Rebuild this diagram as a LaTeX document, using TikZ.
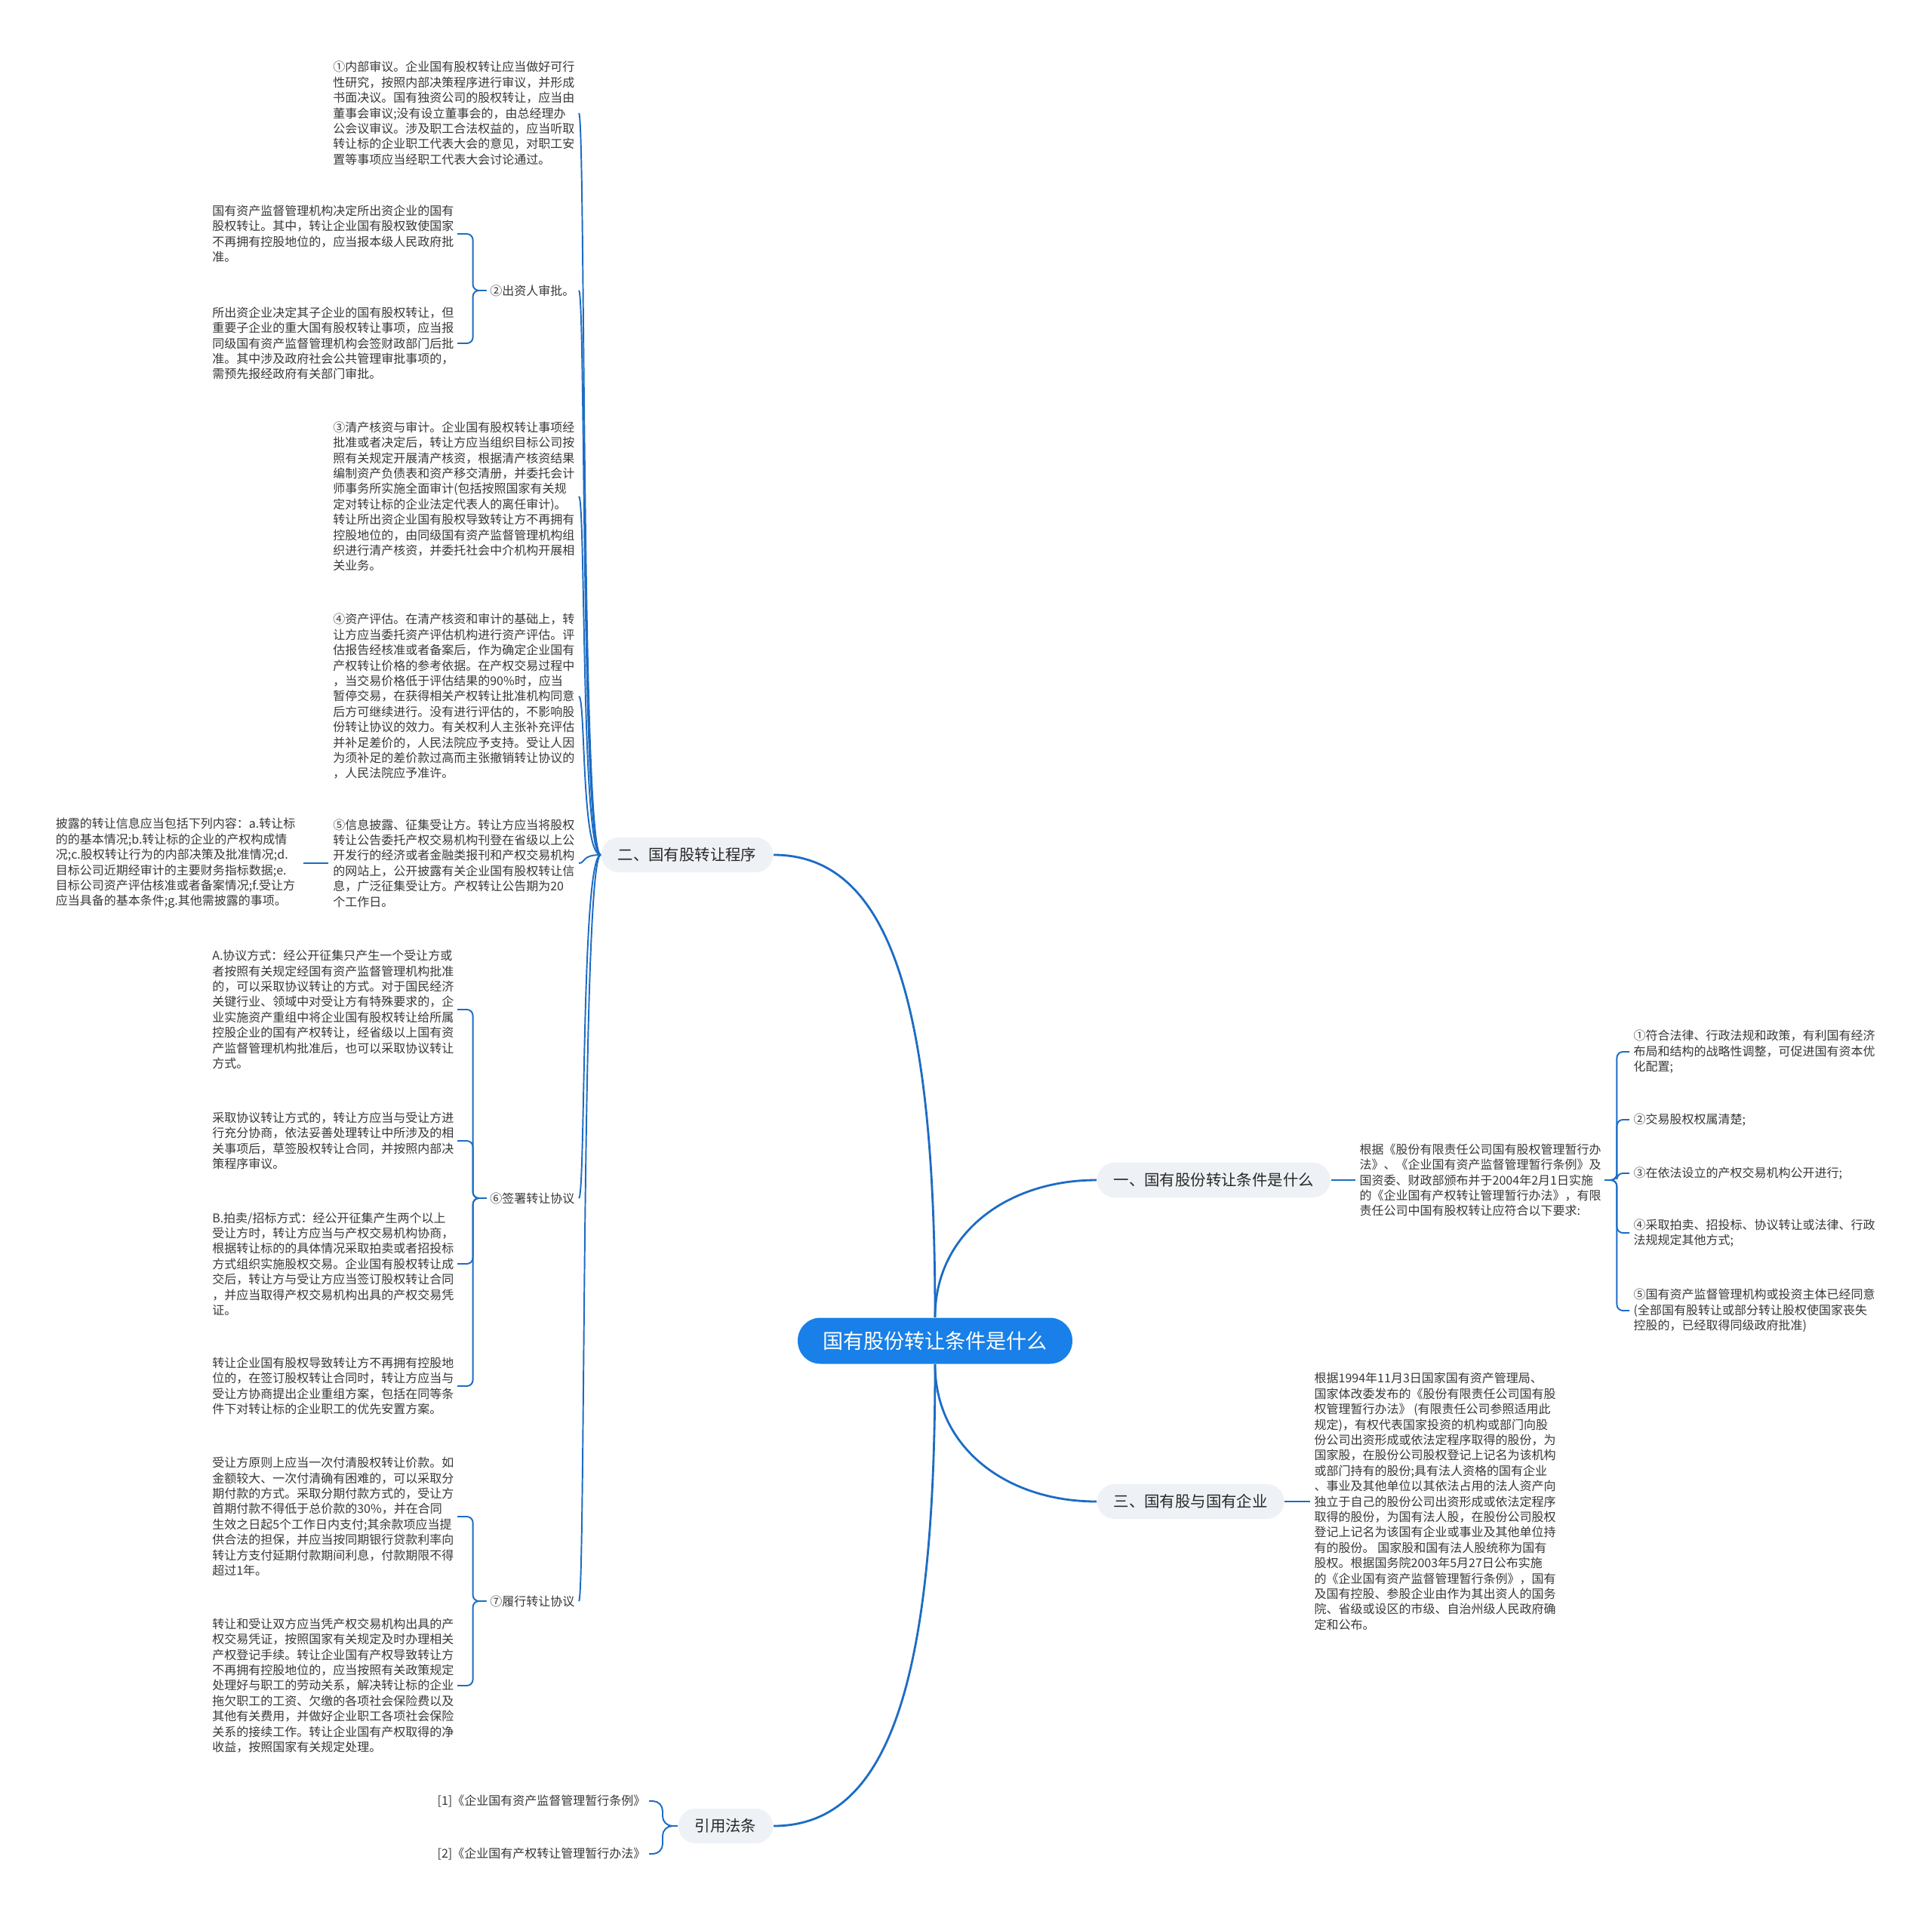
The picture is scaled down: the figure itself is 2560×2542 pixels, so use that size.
\documentclass[tikz,border=0pt]{standalone}
\usepackage{fontspec}
\setmainfont{Noto Sans CJK SC}
\usetikzlibrary{positioning}
\definecolor{rootblue}{RGB}{24,128,232}
\definecolor{branchgray}{RGB}{238,241,245}
\definecolor{linkblue}{RGB}{28,108,196}
\definecolor{txtdark}{RGB}{40,40,40}
\definecolor{txtgray}{RGB}{55,55,55}

\begin{document}
\begin{tikzpicture}[x=0.01cm,y=-0.01cm,
  mmroot/.style={fill=rootblue,text=white,rounded corners=0.3cm,minimum height=0.61cm,
    inner xsep=0.33cm,font=\fontsize{7.7}{9}\selectfont},
  mmbranch/.style={fill=branchgray,text=txtdark,rounded corners=0.23cm,minimum height=0.46cm,
    inner xsep=0.22cm,font=\fontsize{5.8}{7}\selectfont},
  mmtext/.style={align=left,inner sep=0pt,text=txtgray,font=\fontsize{4.55}{5.8}\selectfont},
  mmlink/.style={draw=linkblue,line width=0.55pt},
  mmmain/.style={draw=linkblue,line width=0.8pt},
  mmbrace/.style={mmlink,rounded corners=0.08cm}
]
  \useasboundingbox (0,0) rectangle (2560,2542);
  % centre and main branches
  \node[mmroot] (root) at (1239,1777) {国有股份转让条件是什么};
  \node[mmbranch,anchor=west] (sec1) at (1453,1564) {一、国有股份转让条件是什么};
  \node[mmbranch,anchor=east] (sec2) at (1025,1133) {二、国有股转让程序};
  \node[mmbranch,anchor=west] (sec3) at (1453,1990) {三、国有股与国有企业};
  \node[mmbranch,anchor=east] (refs) at (1025,2420) {引用法条};
  \draw[mmmain] (root.north) .. controls +(0,-110) and +(-120,0) .. (sec1.west);
  \draw[mmmain] (root.north) .. controls +(0,-400) and +(160,0) .. (sec2.east);
  \draw[mmmain] (root.south) .. controls +(0,110) and +(-120,0) .. (sec3.west);
  \draw[mmmain] (root.south) .. controls +(0,400) and +(160,0) .. (refs.east);

  % section one
  \node[mmtext,anchor=west] (r0) at (1801,1564) {根据《股份有限责任公司国有股权管理暂行办\\
法》、《企业国有资产监督管理暂行条例》及\\
国资委、财政部颁布并于2004年2月1日实施\\
的《企业国有产权转让管理暂行办法》，有限\\
责任公司中国有股权转让应符合以下要求:};
  \node[mmtext,anchor=west] (r1) at (2164,1394) {①符合法律、行政法规和政策，有利国有经济\\
布局和结构的战略性调整，可促进国有资本优\\
化配置;};
  \node[mmtext,anchor=west] (r2) at (2164,1484) {②交易股权权属清楚;};
  \node[mmtext,anchor=west] (r3) at (2164,1555) {③在依法设立的产权交易机构公开进行;};
  \node[mmtext,anchor=west] (r4) at (2164,1634) {④采取拍卖、招投标、协议转让或法律、行政\\
法规规定其他方式;};
  \node[mmtext,anchor=west] (r5) at (2164,1737) {⑤国有资产监督管理机构或投资主体已经同意\\
(全部国有股转让或部分转让股权使国家丧失\\
控股的，已经取得同级政府批准)};
  \draw[mmlink,shorten >=0.05cm] (sec1.east) -- (r0.west);
  \foreach \c in {r1,r2,r3,r4,r5}
    \draw[mmbrace,shorten <=0.04cm,shorten >=0.05cm] (r0.east) -- ++(20,0) |- (\c.west);

  % section two
  \node[mmtext,anchor=east] (q1) at (762,150) {①内部审议。企业国有股权转让应当做好可行\\
性研究，按照内部决策程序进行审议，并形成\\
书面决议。国有独资公司的股权转让，应当由\\
董事会审议;没有设立董事会的，由总经理办\\
公会议审议。涉及职工合法权益的，应当听取\\
转让标的企业职工代表大会的意见，对职工安\\
置等事项应当经职工代表大会讨论通过。};
  \node[mmtext,anchor=east] (q2) at (762,385) {②出资人审批。};
  \node[mmtext,anchor=east] (q2a) at (602,310) {国有资产监督管理机构决定所出资企业的国有\\
股权转让。其中，转让企业国有股权致使国家\\
不再拥有控股地位的，应当报本级人民政府批\\
准。};
  \node[mmtext,anchor=east] (q2b) at (602,455) {所出资企业决定其子企业的国有股权转让，但\\
重要子企业的重大国有股权转让事项，应当报\\
同级国有资产监督管理机构会签财政部门后批\\
准。其中涉及政府社会公共管理审批事项的，\\
需预先报经政府有关部门审批。};
  \node[mmtext,anchor=east] (q3) at (762,658) {③清产核资与审计。企业国有股权转让事项经\\
批准或者决定后，转让方应当组织目标公司按\\
照有关规定开展清产核资，根据清产核资结果\\
编制资产负债表和资产移交清册，并委托会计\\
师事务所实施全面审计(包括按照国家有关规\\
定对转让标的企业法定代表人的离任审计)。\\
转让所出资企业国有股权导致转让方不再拥有\\
控股地位的，由同级国有资产监督管理机构组\\
织进行清产核资，并委托社会中介机构开展相\\
关业务。};
  \node[mmtext,anchor=east] (q4) at (762,923) {④资产评估。在清产核资和审计的基础上，转\\
让方应当委托资产评估机构进行资产评估。评\\
估报告经核准或者备案后，作为确定企业国有\\
产权转让价格的参考依据。在产权交易过程中\\
，当交易价格低于评估结果的90\%时，应当\\
暂停交易，在获得相关产权转让批准机构同意\\
后方可继续进行。没有进行评估的，不影响股\\
份转让协议的效力。有关权利人主张补充评估\\
并补足差价的，人民法院应予支持。受让人因\\
为须补足的差价款过高而主张撤销转让协议的\\
，人民法院应予准许。};
  \node[mmtext,anchor=east] (q5) at (762,1144) {⑤信息披露、征集受让方。转让方应当将股权\\
转让公告委托产权交易机构刊登在省级以上公\\
开发行的经济或者金融类报刊和产权交易机构\\
的网站上，公开披露有关企业国有股权转让信\\
息，广泛征集受让方。产权转让公告期为20\\
个工作日。};
  \node[mmtext,anchor=east] (q5a) at (392,1144) {披露的转让信息应当包括下列内容：a.转让标\\
的的基本情况;b.转让标的企业的产权构成情\\
况;c.股权转让行为的内部决策及批准情况;d.\\
目标公司近期经审计的主要财务指标数据;e.\\
目标公司资产评估核准或者备案情况;f.受让方\\
应当具备的基本条件;g.其他需披露的事项。};
  \node[mmtext,anchor=east] (q6) at (762,1588) {⑥签署转让协议};
  \node[mmtext,anchor=east] (q6a) at (602,1338) {A.协议方式：经公开征集只产生一个受让方或\\
者按照有关规定经国有资产监督管理机构批准\\
的，可以采取协议转让的方式。对于国民经济\\
关键行业、领域中对受让方有特殊要求的，企\\
业实施资产重组中将企业国有股权转让给所属\\
控股企业的国有产权转让，经省级以上国有资\\
产监督管理机构批准后，也可以采取协议转让\\
方式。};
  \node[mmtext,anchor=east] (q6b) at (602,1512) {采取协议转让方式的，转让方应当与受让方进\\
行充分协商，依法妥善处理转让中所涉及的相\\
关事项后，草签股权转让合同，并按照内部决\\
策程序审议。};
  \node[mmtext,anchor=east] (q6c) at (602,1675) {B.拍卖/招标方式：经公开征集产生两个以上\\
受让方时，转让方应当与产权交易机构协商，\\
根据转让标的的具体情况采取拍卖或者招投标\\
方式组织实施股权交易。企业国有股权转让成\\
交后，转让方与受让方应当签订股权转让合同\\
，并应当取得产权交易机构出具的产权交易凭\\
证。};
  \node[mmtext,anchor=east] (q6d) at (602,1837) {转让企业国有股权导致转让方不再拥有控股地\\
位的，在签订股权转让合同时，转让方应当与\\
受让方协商提出企业重组方案，包括在同等条\\
件下对转让标的企业职工的优先安置方案。};
  \node[mmtext,anchor=east] (q7) at (762,2122) {⑦履行转让协议};
  \node[mmtext,anchor=east] (q7a) at (602,2010) {受让方原则上应当一次付清股权转让价款。如\\
金额较大、一次付清确有困难的，可以采取分\\
期付款的方式。采取分期付款方式的，受让方\\
首期付款不得低于总价款的30\%，并在合同\\
生效之日起5个工作日内支付;其余款项应当提\\
供合法的担保，并应当按同期银行贷款利率向\\
转让方支付延期付款期间利息，付款期限不得\\
超过1年。};
  \node[mmtext,anchor=east] (q7b) at (602,2234) {转让和受让双方应当凭产权交易机构出具的产\\
权交易凭证，按照国家有关规定及时办理相关\\
产权登记手续。转让企业国有产权导致转让方\\
不再拥有控股地位的，应当按照有关政策规定\\
处理好与职工的劳动关系，解决转让标的企业\\
拖欠职工的工资、欠缴的各项社会保险费以及\\
其他有关费用，并做好企业职工各项社会保险\\
关系的接续工作。转让企业国有产权取得的净\\
收益，按照国家有关规定处理。};
  \foreach \c in {q1,q2,q3,q4,q5,q6,q7}
    \draw[mmlink,shorten >=0.05cm] (sec2.west) .. controls +(-26,0) and +(14,0) .. (\c.east);
  \draw[mmlink,shorten <=0.06cm,shorten >=0.1cm] (q5.west) -- (q5a.east);
  \foreach \p/\c in {q2/q2a,q2/q2b,q6/q6a,q6/q6b,q6/q6c,q6/q6d,q7/q7a,q7/q7b}
    \draw[mmbrace,shorten <=0.04cm,shorten >=0.04cm] (\p.west) -- ++(-22,0) |- (\c.east);

  % section three
  \node[mmtext,anchor=west] (t0) at (1741,1990) {根据1994年11月3日国家国有资产管理局、\\
国家体改委发布的《股份有限责任公司国有股\\
权管理暂行办法》 (有限责任公司参照适用此\\
规定)，有权代表国家投资的机构或部门向股\\
份公司出资形成或依法定程序取得的股份，为\\
国家股，在股份公司股权登记上记名为该机构\\
或部门持有的股份;具有法人资格的国有企业\\
、事业及其他单位以其依法占用的法人资产向\\
独立于自己的股份公司出资形成或依法定程序\\
取得的股份，为国有法人股，在股份公司股权\\
登记上记名为该国有企业或事业及其他单位持\\
有的股份。 国家股和国有法人股统称为国有\\
股权。根据国务院2003年5月27日公布实施\\
的《企业国有资产监督管理暂行条例》，国有\\
及国有控股、参股企业由作为其出资人的国务\\
院、省级或设区的市级、自治州级人民政府确\\
定和公布。};
  \draw[mmlink,shorten >=0.05cm] (sec3.east) -- (t0.west);

  % cited rules
  \node[mmtext,anchor=east] (c1) at (856,2387) {[1]《企业国有资产监督管理暂行条例》};
  \node[mmtext,anchor=east] (c2) at (856,2457) {[2]《企业国有产权转让管理暂行办法》};
  \foreach \c in {c1,c2}
    \draw[mmbrace,rounded corners=0.13cm,shorten >=0.04cm] (refs.west) -- ++(-20,0) |- (\c.east);
\end{tikzpicture}
\end{document}
